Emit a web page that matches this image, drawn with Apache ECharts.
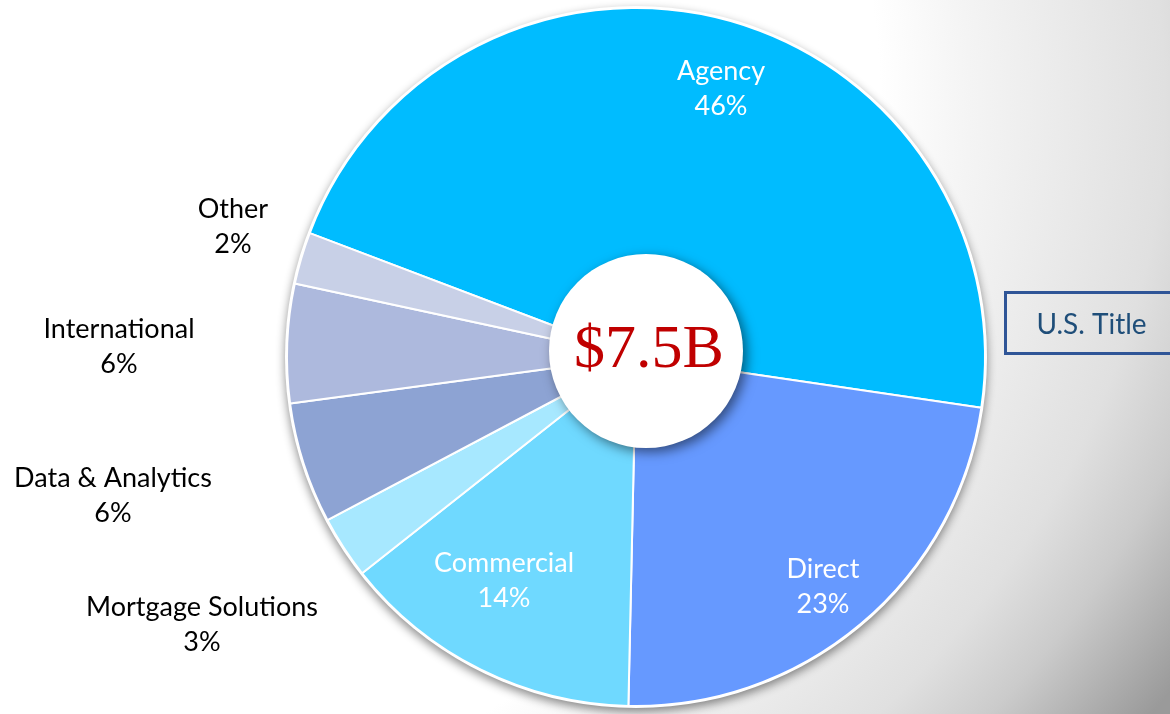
<!DOCTYPE html>
<html>
<head>
<meta charset="utf-8">
<script src="https://cdn.jsdelivr.net/npm/echarts@6/dist/echarts.min.js"></script>
<style>
  html, body { margin: 0; padding: 0; }
  body {
    width: 1170px; height: 714px; overflow: hidden;
    background: radial-gradient(ellipse 1500px 1100px at -200px 100px, #ffffff 72%, #f4f4f4 78%, #e0e0e0 91%, #cbcbcb 97%, #9a9a9a 106%);
  }
  #main { width: 1170px; height: 714px; }
</style>
</head>
<body>
<div id="main"></div>
<script>
// revenue mix, clockwise from Agency
var segments = ['Agency', 'Direct', 'Commercial', 'Mortgage Solutions', 'Data & Analytics', 'International', 'Other'];
var shares = [46.5, 23.0, 14.0, 2.9, 5.6, 5.5, 2.4];
var shareLabels = ['46%', '23%', '14%', '3%', '6%', '6%', '2%'];
var totalLabel = '$7.5B';
var boxLabel = 'U.S. Title';

var colors = ['#00BCFF', '#6699FF', '#6FD9FF', '#A7E8FF', '#8DA3D3', '#ADB9DD', '#C8D0E7'];
var labelColors = ['#fff', '#fff', '#fff', '#000', '#000', '#000', '#000'];
// where each label block sits (centre of the two lines)
var labelPos = [[721, 89], [823, 587], [504, 581], [202, 625], [113, 496], [119, 347], [233, 227]];

var myChart = echarts.init(document.getElementById('main'));

var pieData = segments.map(function (name, i) {
  return {
    name: name,
    value: shares[i],
    itemStyle: { color: colors[i] },
    label: { color: labelColors[i] }
  };
});

var option = {
  animation: false,
  backgroundColor: 'transparent',
  graphic: [{
    type: 'group',
    left: 1004,
    top: 291,
    children: [{
      type: 'rect',
      shape: { x: 0, y: 0, width: 190, height: 61 },
      style: { fill: 'rgba(0,0,0,0)', stroke: '#2F5597', lineWidth: 3 }
    }, {
      type: 'text',
      x: 86,
      y: 32,
      style: {
        text: boxLabel,
        fill: '#1F4E79',
        font: '28px Lato',
        align: 'center',
        verticalAlign: 'middle'
      }
    }]
  }],
  series: [{
    // white rim + drop shadow under the pie
    type: 'pie',
    silent: true,
    z: 1,
    center: [636, 357],
    radius: [0, 351],
    label: { show: false },
    labelLine: { show: false },
    itemStyle: {
      color: '#fff',
      shadowColor: 'rgba(0,0,0,0.45)',
      shadowBlur: 10,
      shadowOffsetY: 4
    },
    data: [1]
  }, {
    type: 'pie',
    z: 2,
    silent: true,
    center: [636, 357],
    radius: [0, 349],
    startAngle: 159.2,
    clockwise: true,
    itemStyle: { borderColor: '#fff', borderWidth: 2 },
    label: {
      show: true,
      position: 'inside',
      fontFamily: 'Lato',
      fontSize: 27,
      lineHeight: 35,
      align: 'center',
      formatter: function (p) {
        return p.name + '\n' + shareLabels[p.dataIndex];
      }
    },
    labelLine: { show: false },
    labelLayout: function (p) {
      var pos = labelPos[p.dataIndex];
      return { x: pos[0], y: pos[1], align: 'center', verticalAlign: 'middle' };
    },
    data: pieData
  }, {
    // centre disc with the total
    type: 'pie',
    z: 3,
    silent: true,
    center: [646, 351],
    radius: [0, 97],
    itemStyle: {
      color: '#fff',
      shadowColor: 'rgba(0,0,0,0.5)',
      shadowBlur: 12,
      shadowOffsetX: 4,
      shadowOffsetY: 4
    },
    label: {
      show: true,
      position: 'center',
      formatter: totalLabel,
      color: '#C00000',
      fontFamily: 'Liberation Serif',
      fontSize: 62,
      padding: [6, 0, 0, 6]
    },
    labelLine: { show: false },
    data: [{ name: 'total', value: 1 }]
  }]
};

myChart.setOption(option);
</script>
</body>
</html>
